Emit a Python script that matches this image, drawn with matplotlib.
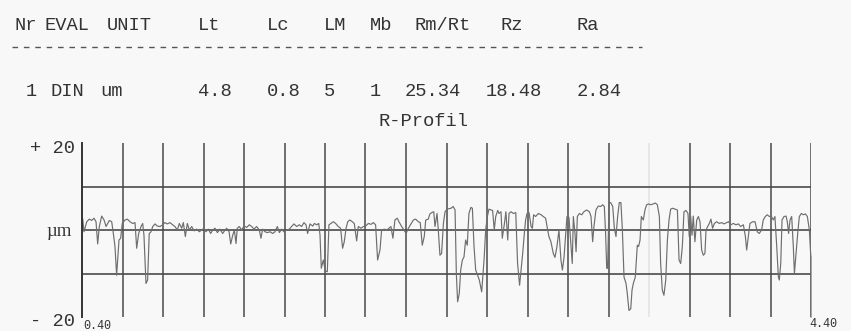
import numpy as np
import matplotlib
matplotlib.use("Agg")
import matplotlib.pyplot as plt
from matplotlib.lines import Line2D

# header table of the measurement
header_labels = ["Nr", "EVAL", "UNIT", "Lt", "Lc", "LM", "Mb", "Rm/Rt", "Rz", "Ra"]
row_values = ["1", "DIN", "um", "4.8", "0.8", "5", "1", "25.34", "18.48", "2.84"]
header_x = [14, 45, 107, 198, 267, 324, 370, 414, 500, 576]   # pixel positions
row_x = [26, 50, 100, 198, 267, 324, 370, 405, 486, 577]

# R-profile, x in mm, z in um
x_mm = [
    0.404, 0.411, 0.426, 0.440, 0.453, 0.466, 0.477, 0.486, 0.495, 0.508,
    0.521, 0.532, 0.541, 0.550, 0.563, 0.572, 0.581, 0.590, 0.603, 0.612,
    0.621, 0.636, 0.649, 0.663, 0.678, 0.691, 0.700, 0.711, 0.724, 0.733,
    0.740, 0.751, 0.760, 0.769, 0.779, 0.788, 0.801, 0.813, 0.828, 0.843,
    0.855, 0.868, 0.883, 0.897, 0.910, 0.923, 0.934, 0.947, 0.956, 0.967,
    0.978, 0.989, 1.002, 1.015, 1.029, 1.044, 1.057, 1.069, 1.080, 1.093,
    1.106, 1.117, 1.130, 1.143, 1.157, 1.172, 1.185, 1.194, 1.207, 1.216,
    1.227, 1.236, 1.245, 1.252, 1.263, 1.276, 1.289, 1.304, 1.318, 1.331,
    1.344, 1.358, 1.373, 1.382, 1.391, 1.404, 1.417, 1.432, 1.446, 1.459,
    1.472, 1.483, 1.496, 1.508, 1.523, 1.538, 1.550, 1.563, 1.578, 1.592,
    1.605, 1.618, 1.629, 1.638, 1.651, 1.666, 1.675, 1.688, 1.699, 1.706,
    1.713, 1.724, 1.735, 1.746,
    1.755, 1.766, 1.779, 1.792, 1.806, 1.819, 1.830, 1.839, 1.849, 1.858,
    1.870, 1.883, 1.894, 1.907, 1.916, 1.931, 1.944, 1.956, 1.971, 1.986,
    1.999, 2.011, 2.022, 2.035, 2.044, 2.059, 2.072, 2.084, 2.095, 2.106,
    2.117, 2.130, 2.139, 2.154, 2.167, 2.178, 2.191, 2.205, 2.218, 2.231,
    2.245, 2.256, 2.267, 2.278, 2.286, 2.300, 2.309, 2.319, 2.330, 2.337,
    2.348, 2.355, 2.364, 2.373, 2.383, 2.392, 2.403, 2.414, 2.425, 2.437,
    2.447, 2.454, 2.461, 2.470, 2.478, 2.487, 2.496, 2.505, 2.514, 2.523,
    2.534, 2.542, 2.551, 2.560, 2.571, 2.580, 2.593, 2.606, 2.615, 2.624,
    2.633, 2.644, 2.653, 2.662, 2.670, 2.681, 2.688, 2.699, 2.706, 2.717,
    2.726, 2.736, 2.743, 2.754, 2.767, 2.780, 2.790, 2.801, 2.809, 2.818,
    2.827, 2.834, 2.842, 2.853, 2.864, 2.871, 2.878, 2.889, 2.904, 2.919,
    2.931, 2.944, 2.955, 2.962, 2.973, 2.986, 2.995, 3.006, 3.017, 3.028,
    3.036, 3.045, 3.054, 3.061, 3.072, 3.083, 3.090,
    3.096, 3.105, 3.111, 3.118, 3.129, 3.142, 3.154, 3.169, 3.184, 3.193,
    3.202, 3.209, 3.220, 3.233, 3.246, 3.257, 3.266, 3.273, 3.279, 3.284,
    3.292, 3.301, 3.312, 3.321, 3.330, 3.339, 3.348, 3.357, 3.365, 3.374,
    3.385, 3.392, 3.401, 3.411, 3.418, 3.425, 3.436, 3.447, 3.454, 3.462,
    3.469, 3.480, 3.489, 3.498, 3.509, 3.520, 3.535, 3.546, 3.557, 3.568,
    3.575, 3.584, 3.593, 3.603, 3.612, 3.621, 3.630, 3.641, 3.654, 3.667,
    3.676, 3.685, 3.694, 3.703, 3.714, 3.725, 3.732, 3.740, 3.747, 3.754,
    3.763, 3.773, 3.782, 3.791, 3.800, 3.809, 3.818, 3.824, 3.833, 3.842,
    3.851, 3.860, 3.870, 3.882, 3.897, 3.910, 3.923, 3.937, 3.948, 3.959,
    3.974, 3.988, 4.001, 4.014, 4.029, 4.040, 4.047, 4.056, 4.065, 4.080,
    4.093, 4.105, 4.116, 4.129, 4.138, 4.149, 4.160, 4.171, 4.182, 4.193,
    4.202, 4.212, 4.221, 4.226, 4.234, 4.241, 4.252, 4.263, 4.270, 4.277,
    4.285, 4.294, 4.303, 4.309, 4.318, 4.327, 4.336, 4.347, 4.358, 4.369,
    4.380, 4.391, 4.398, 4.400, 4.400,
]
z_um = [
    2.5, -0.4, 1.9, 2.5, 2.2, 2.7, 1.9, -3.2, 0.8, 3.2,
    2.3, 0.8, 1.5, 2.2, 1.9, -0.8, -3.8, -10.4, -2.3, -1.9,
    1.5, 2.3, 2.5, 1.9, 1.5, 1.7, -4.2, -0.8, 0.8, 1.5,
    -1.2, -12.3, -11.5, -0.8, -0.4, 0.8, 1.4, 0.9, 0.8, 1.2,
    1.7, 1.4, 1.7, 1.2, 0.8, 0.0, 1.5, 0.4, 1.7, -1.5,
    1.5, 0.0, 0.8, -0.2, 0.2, -0.4, 0.0, 0.4, -0.4, 0.2,
    -0.8, 0.0, 0.4, -0.6, 0.2, -0.8, 0.0, 0.4, -0.4, -3.2,
    -1.2, 0.0, -3.1, 0.4, 0.8, 0.0, 0.9, 0.6, 1.2, 0.8,
    0.2, 0.8, 0.0, -1.9, 0.2, -0.4, -0.6, -0.4, -0.8, -0.4,
    0.8, -0.6, 0.2, -0.4, 0.0, 0.2, 0.8, 1.4, 0.8, 1.2,
    0.8, 1.7, 1.2, -0.8, 1.4, 0.9, 1.5, 1.2, 1.5, -1.2,
    -8.8, -6.9, -9.4, -9.6,
    1.2, 1.5, 1.9, 1.5, 0.8, 0.4, -4.2, -2.7, 0.4, 1.9,
    2.3, 1.9, 1.5, -2.5, 0.8, 0.4, 0.8, 0.9, 1.5, 1.3,
    1.7, 1.2, -6.9, -4.6, 0.0, 0.2, 0.0, 0.4, 0.8, -1.9,
    2.3, 2.7, 1.9, 0.8, 0.0, -0.8, 0.4, 1.4, 2.3, 2.5,
    1.9, 1.7, -3.5, -1.5, 2.3, 2.5, 3.7, 4.0, 4.2, 0.8,
    3.8, 0.0, -5.8, -5.4, 1.5, 4.2, 4.8, 4.9, 5.0, 5.4,
    4.6, -10.0, -16.5, -14.6, -9.2, -6.9, -6.2, -2.3, -3.5, 3.8,
    5.2, 5.0, -3.8, -9.2, -10.4, -11.5, -14.2, -6.9, 0.0, 3.1,
    4.8, 4.6, 4.5, 0.0, 3.1, 4.5, 3.8, 4.2, -1.9, 1.2,
    4.2, -2.3, 3.8, 4.2, 3.8, 4.0, -7.7, -12.7, -9.2, -5.4,
    -0.8, 2.3, 3.8, 4.0, 0.8, 0.4, 3.5, 3.1, 3.8, 3.5,
    3.1, 2.7, 0.0, -1.5, -2.7, -5.4, -6.3, -3.8, 0.0, -6.9,
    -9.2, -6.2, -0.8, 3.1, 2.9, -3.8, -7.7,
    3.1, -0.8, -5.0, 3.1, 3.8, 3.5, 4.2, 4.6, 4.2, 3.1,
    -2.7, 0.8, 4.6, 5.5, 5.4, 5.8, 5.4, -0.8, -8.8, -8.8,
    6.2, 6.3, 5.4, 0.4, -1.5, 3.1, 6.3, 6.3, 0.0, -10.8,
    -12.3, -14.6, -18.5, -18.1, -13.8, -12.3, -10.8, -3.5, -3.8, -2.3,
    3.1, 2.3, 4.6, 5.8, 6.0, 5.8, 6.0, 6.2, 5.8, 3.1,
    -7.7, -13.8, -15.0, -11.5, -2.3, 2.3, 4.8, 5.0, 4.8, 4.6,
    -6.9, -7.7, -3.8, 4.2, 4.5, 3.8, -1.5, 3.1, -1.2, 3.2,
    -2.7, 2.3, 3.1, 1.9, -4.6, -5.8, -5.4, 0.0, 0.8, 1.5,
    2.5, 0.4, 1.5, 1.9, 1.5, 1.7, 1.4, 1.7, 1.9, 1.2,
    1.5, 1.2, 1.4, 0.8, 1.2, -1.5, -4.6, -1.5, 1.5, 1.9,
    1.9, -0.4, -0.8, 0.0, 2.3, 3.1, 3.5, 3.1, 3.2, 2.3,
    3.1, -3.8, -10.8, -11.5, -7.7, 2.3, 3.1, 3.2, 1.9, -0.8,
    2.3, 3.1, -3.8, -10.0, -5.4, -0.8, 3.1, 3.8, 3.5, 3.7,
    3.1, 0.0, -5.4, -6.2, -20.0,
]

W, H = 851, 331
fig = plt.figure(figsize=(W / 100, H / 100), dpi=100)
fig.patch.set_facecolor("#f8f8f8")

mono = ["Liberation Mono", "DejaVu Sans Mono"]
txt_col = "#333333"


def fx(px):
    return px / W


def fy(py):
    return 1 - py / H


# table text
for lab, px in zip(header_labels, header_x):
    fig.text(fx(px), fy(25), lab, family=mono, fontsize=13.5, color=txt_col,
             ha="left", va="center")
for val, px in zip(row_values, row_x):
    fig.text(fx(px), fy(91), val, family=mono, fontsize=13.5, color=txt_col,
             ha="left", va="center")
fig.add_artist(Line2D([fx(12), fx(642)], [fy(47), fy(47)], transform=fig.transFigure,
                      color="#555555", lw=1.0, linestyle=(0, (4.0, 4.2))))
fig.text(fx(424), fy(122), "R-Profil", family=mono, fontsize=13.5, color=txt_col,
         ha="center", va="center")

# profile axes
ax = fig.add_axes([fx(82), fy(317), fx(811) - fx(82), (317 - 143) / H])
ax.set_facecolor("none")
ax.set_xlim(0.4, 4.4)
ax.set_ylim(-20, 20)
for s in ["top", "right", "bottom"]:
    ax.spines[s].set_visible(False)
ax.spines["left"].set_color("#333333")
ax.spines["left"].set_linewidth(1.4)
ax.set_xticks([])
ax.set_yticks([])

grid_x = np.linspace(0.4, 4.4, 19)
for i, gx in enumerate(grid_x[1:], start=1):
    c = "#e2e2e2" if i == 14 else "#4a4a4a"
    ax.axvline(gx, color=c, lw=1.1, zorder=1)
for gy in [10, 0, -10]:
    ax.axhline(gy, color="#4a4a4a", lw=1.2, zorder=1)

ax.plot(x_mm, z_um, color="#6e6e6e", lw=0.85, zorder=2, clip_on=False)

# axis annotations
fig.text(fx(75), fy(148), "+ 20", family=mono, fontsize=13.5, color=txt_col,
         ha="right", va="center")
fig.text(fx(72), fy(231), "µm", family=["Liberation Serif", "DejaVu Serif"], fontsize=13.5,
         color=txt_col, ha="right", va="center")
fig.text(fx(75), fy(322), "- 20", family=mono, fontsize=13.5, color=txt_col,
         ha="right", va="center")
fig.text(fx(83), fy(326), "0.40", family=mono, fontsize=8.5, color=txt_col,
         ha="left", va="center")
fig.text(fx(809), fy(324), "4.40", family=mono, fontsize=8.5, color=txt_col,
         ha="left", va="center")

fig.savefig("out.png", dpi=100, facecolor=fig.get_facecolor())
